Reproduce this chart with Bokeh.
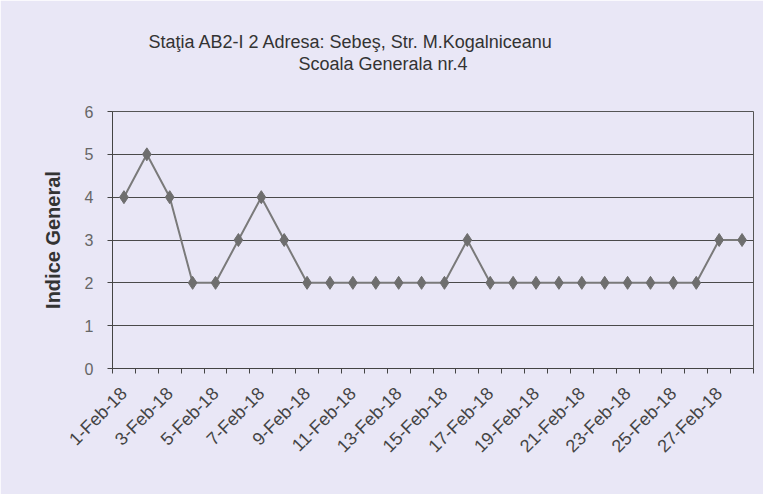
from bokeh.plotting import figure
from bokeh.models import FixedTicker, Title, ColumnDataSource, Range1d
from bokeh.embed import file_html
from bokeh.resources import INLINE
import math

dates = ["1-Feb-18", "2-Feb-18", "3-Feb-18", "4-Feb-18", "5-Feb-18", "6-Feb-18", "7-Feb-18",
         "8-Feb-18", "9-Feb-18", "10-Feb-18", "11-Feb-18", "12-Feb-18", "13-Feb-18", "14-Feb-18",
         "15-Feb-18", "16-Feb-18", "17-Feb-18", "18-Feb-18", "19-Feb-18", "20-Feb-18", "21-Feb-18",
         "22-Feb-18", "23-Feb-18", "24-Feb-18", "25-Feb-18", "26-Feb-18", "27-Feb-18", "28-Feb-18"]
indice = [4, 5, 4, 2, 2, 3, 4, 3, 2, 2, 2, 2, 2, 2, 2, 3, 2, 2, 2, 2, 2, 2, 2, 2, 2, 2, 3, 3]
y_ticks = [0, 1, 2, 3, 4, 5, 6]
title_line1 = "Staţia AB2-I 2  Adresa: Sebeş, Str. M.Kogalniceanu"
title_line2 = "Scoala Generala nr.4"
y_label = "Indice General"

BG = "#e9e7f6"
FONT = "Liberation Sans"

pos = list(range(1, len(dates) + 1))
src = ColumnDataSource(dict(x=pos, y=indice, d=dates))

p = figure(width=763, height=494, output_backend="svg", toolbar_location=None,
           x_range=Range1d(0.5, len(dates) + 0.5), y_range=Range1d(0, 6),
           min_border_left=112, min_border_right=10, min_border_bottom=126, min_border_top=10)
p.background_fill_color = BG
p.border_fill_color = BG
p.outline_line_color = "#555555"
p.outline_line_width = 1

p.line("x", "y", source=src, line_color="#7a7a7a", line_width=2)
p.scatter("x", "y", source=src, marker="diamond", size=13, fill_color="#6e6e6e",
          line_color="#6e6e6e")

# titles (added bottom-up)
p.add_layout(Title(text=" ", text_font_size="32.5px", text_font=FONT, standoff=0), "above")
p.add_layout(Title(text=title_line2, align="left", offset=186, text_font=FONT, standoff=0,
                   text_font_size="18px", text_font_style="normal", text_color="#333333"), "above")
p.add_layout(Title(text=title_line1, align="left", offset=36, text_font=FONT, standoff=0,
                   text_font_size="18px", text_font_style="normal", text_color="#333333"), "above")
p.add_layout(Title(text=" ", text_font_size="24px", text_font=FONT, standoff=0), "above")

# x axis
label_pos = pos[::2]
p.xaxis.ticker = FixedTicker(ticks=label_pos, minor_ticks=[i + 0.5 for i in range(0, len(dates) + 1)])
p.xaxis.major_label_overrides = {i: dates[i - 1] for i in label_pos}
p.xaxis.major_label_orientation = math.pi / 4
p.xaxis.major_tick_out = 0
p.xaxis.major_tick_in = 0
p.xaxis.minor_tick_out = 5
p.xaxis.minor_tick_in = 0
p.xaxis.major_label_text_font = FONT
p.xaxis.major_label_text_font_size = "18px"
p.xaxis.major_label_text_color = "#444444"
p.xaxis.axis_line_color = "#444444"
p.xaxis.minor_tick_line_color = "#444444"
p.xaxis.major_label_standoff = 17

# y axis
p.yaxis.ticker = FixedTicker(ticks=y_ticks, minor_ticks=[])
p.yaxis.major_tick_out = 5
p.yaxis.major_tick_in = 0
p.yaxis.major_label_standoff = 14
p.yaxis.major_label_text_font = FONT
p.yaxis.major_label_text_font_size = "16px"
p.yaxis.major_label_text_color = "#666666"
p.yaxis.axis_line_color = "#444444"
p.yaxis.major_tick_line_color = "#444444"
p.yaxis.axis_label = y_label
p.yaxis.axis_label_text_font = FONT
p.yaxis.axis_label_text_font_size = "20px"
p.yaxis.axis_label_text_font_style = "bold"
p.yaxis.axis_label_text_color = "#333333"
p.yaxis.axis_label_standoff = 18

p.xgrid.grid_line_color = None
p.ygrid.grid_line_color = "#4a4a4a"
p.ygrid.grid_line_width = 1

open("out.html", "w").write(file_html(p, INLINE))
